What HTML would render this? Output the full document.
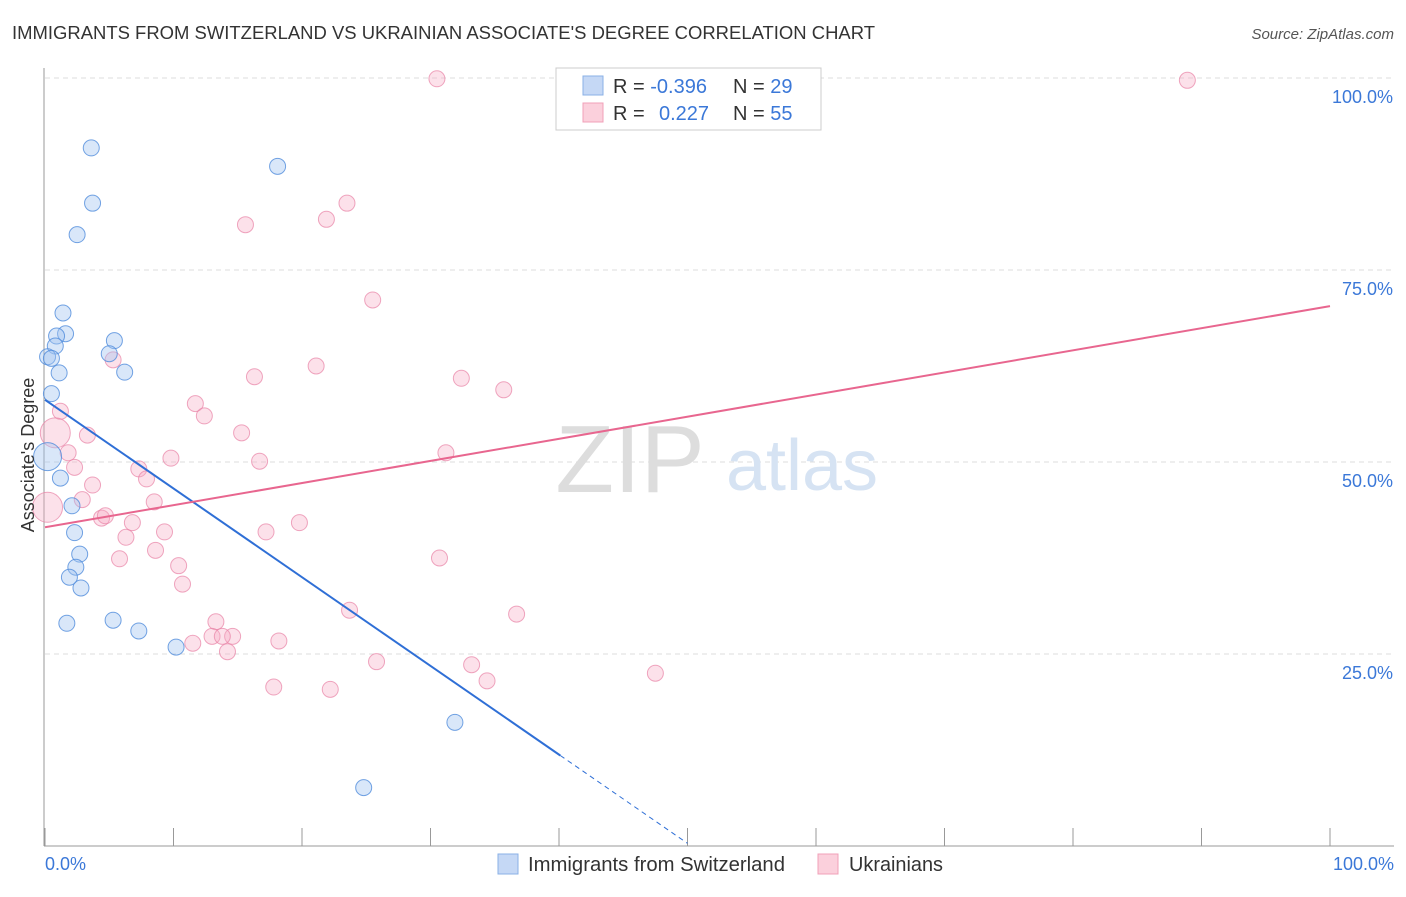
<!DOCTYPE html>
<html><head><meta charset="utf-8"><style>
body{margin:0;background:#fff;font-family:"Liberation Sans",sans-serif;}
svg text{font-family:"Liberation Sans",sans-serif;}
</style></head><body>
<svg id="chart" width="1406" height="892">
<text x="12" y="39" font-size="18" fill="#333" textLength="863" lengthAdjust="spacingAndGlyphs">IMMIGRANTS FROM SWITZERLAND VS UKRAINIAN ASSOCIATE'S DEGREE CORRELATION CHART</text>
<text x="1394" y="39" font-size="15" fill="#555" font-style="italic" text-anchor="end">Source: ZipAtlas.com</text>
<g id="grid"></g>
<text x="630" y="492" font-size="96" fill="#ddd" font-family="Liberation Serif" text-anchor="middle">ZIP</text>
<text x="802" y="490" font-size="72" fill="#d6e3f3" text-anchor="middle">atlas</text>
<g id="pts"></g>
<g id="lines"></g>
<text transform="translate(34,455) rotate(-90)" font-size="18" fill="#333" text-anchor="middle">Associate's Degree</text>
<text x="45" y="870" font-size="18" fill="#3b78d8">0.0%</text>
<text x="1394" y="870" font-size="18" fill="#3b78d8" text-anchor="end">100.0%</text>
<g>
<rect x="556" y="68" width="265" height="62" fill="#fff" stroke="#ccc"/>
<rect x="583" y="76" width="20" height="19" fill="#c5d8f5" stroke="#8ab0e6"/>
<rect x="583" y="103" width="20" height="19" fill="#fbd0dc" stroke="#f0a0b8"/>
<text x="613" y="93" font-size="20" fill="#333">R = <tspan fill="#3b78d8">-0.396</tspan></text>
<text x="733" y="93" font-size="20" fill="#333">N = <tspan fill="#3b78d8">29</tspan></text>
<text x="613" y="120" font-size="20" fill="#333">R = <tspan fill="#3b78d8" x="659">0.227</tspan></text>
<text x="733" y="120" font-size="20" fill="#333">N = <tspan fill="#3b78d8">55</tspan></text>
</g>
<g>
<rect x="498" y="854" width="20" height="20" fill="#c5d8f5" stroke="#8ab0e6"/>
<text x="528" y="871" font-size="20" fill="#333" textLength="257" lengthAdjust="spacingAndGlyphs">Immigrants from Switzerland</text>
<rect x="818" y="854" width="20" height="20" fill="#fbd0dc" stroke="#f0a0b8"/>
<text x="849" y="871" font-size="20" fill="#333" textLength="94" lengthAdjust="spacingAndGlyphs">Ukrainians</text>
</g>
</svg>
<script>
const blueX=[3.6,18.1,3.7,2.5,1.4,1.6,0.9,5.4,0.8,5.0,0.2,0.5,1.1,6.2,0.5,0.2,1.2,2.1,2.3,2.7,2.4,1.9,2.8,1.7,5.3,7.3,10.2,31.9,24.8];
const blueY=[90.9,88.5,83.7,79.6,69.4,66.7,66.4,65.8,65.1,64.1,63.7,63.5,61.6,61.7,58.9,50.7,47.9,44.3,40.8,38.0,36.3,35.0,33.6,29.0,29.4,28.0,25.9,16.1,7.6];
const blueBig=[15];
const pinkX=[30.5,88.9,23.5,21.9,15.6,25.5,21.1,5.3,16.3,32.4,35.7,11.7,12.4,1.2,0.8,3.3,15.3,1.8,9.8,16.7,31.2,2.3,7.3,7.9,3.7,2.9,8.5,0.2,4.4,4.7,6.8,19.8,6.3,9.3,17.2,8.6,5.8,10.4,30.7,10.7,23.7,36.7,13.3,13.0,14.6,13.8,18.2,11.5,14.2,25.8,33.2,34.4,47.5,17.8,22.2];
const pinkY=[99.9,99.7,83.7,81.6,80.9,71.1,62.5,63.3,61.1,60.9,59.4,57.6,56.0,56.6,53.8,53.5,53.8,51.2,50.5,50.1,51.2,49.3,49.1,47.8,47.0,45.1,44.8,44.1,42.7,43.0,42.1,42.1,40.2,40.9,40.9,38.5,37.4,36.5,37.5,34.1,30.7,30.2,29.2,27.3,27.3,27.3,26.7,26.4,25.3,24.0,23.6,21.5,22.5,20.7,20.4];
const pinkBig=[14,27];
const yTicks=[25,50,75,100];
const yTickLabels=["25.0%","50.0%","75.0%","100.0%"];
const xTicks=[0,10,20,30,40,50,60,70,80,90,100];
const blueTrend=[58.1,-1.155];
const pinkTrend=[41.5,0.288];
const NS='http://www.w3.org/2000/svg';
const X=v=>45+v*12.85, Y=v=>846-v*7.68;
function mk(t,a,p){const e=document.createElementNS(NS,t);for(const k in a)e.setAttribute(k,a[k]);p.appendChild(e);return e;}
const g=document.getElementById('grid');
yTicks.forEach((t,i)=>{
 const l=mk('line',{x1:45,x2:1394,y1:Y(t),y2:Y(t),stroke:'#ddd','stroke-dasharray':'5,4'},g);
 
 
 const tx=mk('text',{x:1393,y:Y(t)+25,'font-size':18,fill:'#3b78d8','text-anchor':'end'},g);
 tx.textContent=yTickLabels[i];
 
 
});
const ax=mk('line',{x1:44,x2:44,y1:68,y2:846,stroke:'#999'},g);


const bx=mk('line',{x1:44,x2:1394,y1:846,y2:846,stroke:'#999'},g);


xTicks.forEach(t=>{const l=mk('line',{x1:X(t),x2:X(t),y1:828,y2:846,stroke:'#999'},g);
 
 });
const p=document.getElementById('pts');
pinkX.forEach((v,i)=>{const c=mk('circle',{cx:X(v),cy:Y(pinkY[i]),r:pinkBig.includes(i)?15:8,fill:'rgba(247,170,195,0.35)',stroke:'rgba(232,130,165,0.7)'},p);
 
 });
blueX.forEach((v,i)=>{const c=mk('circle',{cx:X(v),cy:Y(blueY[i]),r:blueBig.includes(i)?14:8,fill:'rgba(160,195,240,0.4)',stroke:'rgba(80,140,220,0.8)'},p);
 
 });
const L=document.getElementById('lines');
const b1=mk('line',{x1:X(0),y1:Y(blueTrend[0]),x2:X(40.1),y2:Y(blueTrend[0]+blueTrend[1]*40.1),stroke:'#2f6fd6','stroke-width':2},L);


const b2=mk('line',{x1:X(40.1),y1:Y(blueTrend[0]+blueTrend[1]*40.1),x2:X(50),y2:Y(blueTrend[0]+blueTrend[1]*50),stroke:'#2f6fd6','stroke-width':1,'stroke-dasharray':'5,4'},L);


const p1=mk('line',{x1:X(0),y1:Y(pinkTrend[0]),x2:X(100),y2:Y(pinkTrend[0]+pinkTrend[1]*100),stroke:'#e8668f','stroke-width':2},L);


</script>
</body></html>
